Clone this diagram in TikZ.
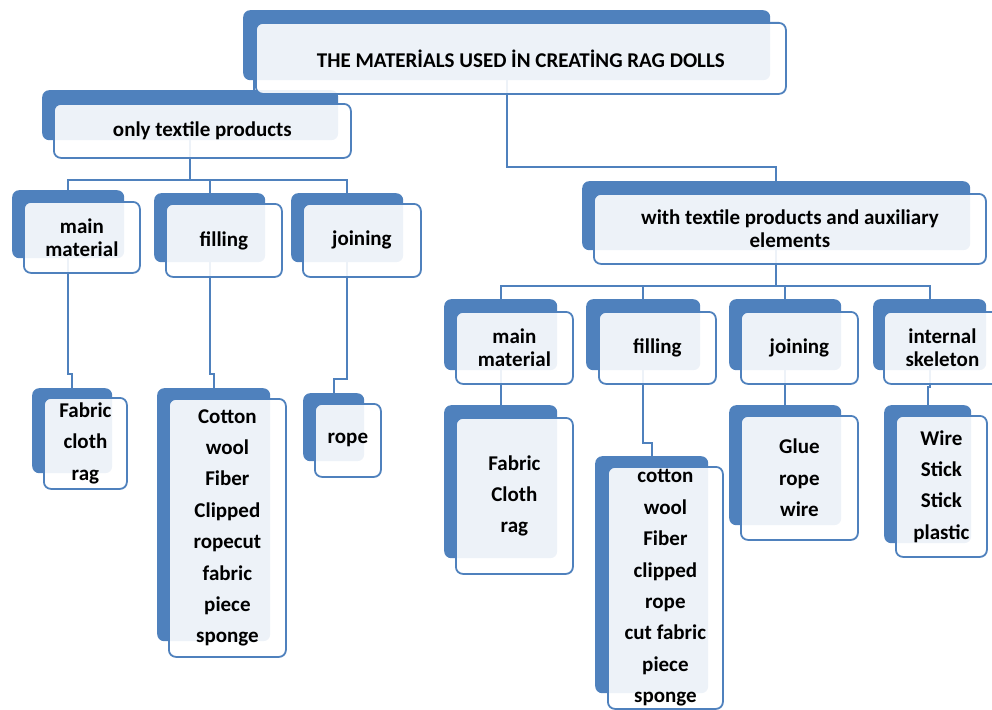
\documentclass[tikz,border=0pt]{standalone}
\usepackage{fontspec}
\setmainfont{Carlito}
\definecolor{dollblue}{RGB}{79,129,189}
\tikzset{
  back/.style={fill=dollblue, rounded corners=7pt, anchor=north west, inner sep=0pt},
  front/.style={draw=dollblue, line width=1.8pt, fill=white, fill opacity=.9, text opacity=1,
    rounded corners=7pt, anchor=north west, inner sep=0pt, align=center,
    font=\bfseries\fontsize{21}{23}\selectfont},
  leaf/.style={front, font=\bfseries\fontsize{21}{31.4}\selectfont},
  link/.style={draw=dollblue, line width=2pt},
}
\begin{document}
\begin{tikzpicture}[x=1pt, y=-1pt]

    \clip (0,0) rectangle (992,709);

    % Back boxes
    \node[back, minimum width=527, minimum height=70] (title) at (243,10) {};
    \node[back, minimum width=296, minimum height=50] (only) at (42,90) {};
    \node[back, minimum width=388, minimum height=69] (aux) at (582,181) {};
    \node[back, minimum width=112, minimum height=68] (lmain) at (12,190) {};
    \node[back, minimum width=111, minimum height=69] (lfill) at (154,193) {};
    \node[back, minimum width=112, minimum height=69] (ljoin) at (291,193) {};
    \node[back, minimum width=113, minimum height=71] (rmain) at (444,299) {};
    \node[back, minimum width=114, minimum height=71] (rfill) at (586,299) {};
    \node[back, minimum width=112, minimum height=71] (rjoin) at (729,299) {};
    \node[back, minimum width=113, minimum height=71] (rskel) at (873,299) {};
    \node[back, minimum width=80, minimum height=85] (lfabric) at (32,388) {};
    \node[back, minimum width=113, minimum height=253] (lcotton) at (157,388) {};
    \node[back, minimum width=61, minimum height=68] (lrope) at (303,393) {};
    \node[back, minimum width=113, minimum height=153] (rfabric) at (444,405) {};
    \node[back, minimum width=113, minimum height=237] (rcotton) at (595,456) {};
    \node[back, minimum width=112, minimum height=120] (rglue) at (729,405) {};
    \node[back, minimum width=87, minimum height=138] (rwire) at (884,405) {};

    % Connectors
    \coordinate (tl) at (254,80);
    \draw[link] (tl) -- (tl |- only.north);
    \draw[link] (title.south) -- ++(0,87) -| (aux.north);
    \draw[link] (only.south) -- ++(0,40) -| (lmain.north);
    \draw[link] (only.south) -- ++(0,40) -| (lfill.north);
    \draw[link] (only.south) -- ++(0,40) -| (ljoin.north);
    \draw[link] (aux.south) -- ++(0,36) -| (rmain.north);
    \draw[link] (aux.south) -- ++(0,36) -| (rfill.north);
    \draw[link] (aux.south) -- ++(0,36) -| (rjoin.north);
    \draw[link] (aux.south) -- ++(0,36) -| (rskel.north);
    \draw[link] (lmain.south) -- ++(0,116) -| (lfabric.north);
    \draw[link] (lfill.south) -- ++(0,112) -| (lcotton.north);
    \draw[link] (ljoin.south) -- ++(0,117) -| (lrope.north);
    \draw[link] (rmain.south) -- (rfabric.north);
    \draw[link] (rfill.south) -- ++(0,73) -| (rcotton.north);
    \draw[link] (rjoin.south) -- (rglue.north);
    \draw[link] (rskel.south) -- ++(0,17) -| (rwire.north);

    % Front boxes
    \node[front, minimum width=530, minimum height=71] (title-f) at (255,22) {THE MATERİALS USED İN CREATİNG RAG DOLLS};
    \node[front, minimum width=297, minimum height=54] (only-f) at (53,103) {only textile products};
    \node[front, minimum width=392, minimum height=70] (aux-f) at (593,193) {with textile products and auxiliary\\elements};
    \node[front, minimum width=116, minimum height=71] (lmain-f) at (23,201) {main\\material};
    \node[front, minimum width=116, minimum height=73] (lfill-f) at (165,203) {filling};
    \node[front, minimum width=118, minimum height=73] (ljoin-f) at (302,203) {joining};
    \node[front, minimum width=117, minimum height=72] (rmain-f) at (455,311) {main\\material};
    \node[front, minimum width=117, minimum height=72] (rfill-f) at (598,311) {filling};
    \node[front, minimum width=117, minimum height=72] (rjoin-f) at (740,311) {joining};
    \node[front, minimum width=117, minimum height=72] (rskel-f) at (883,311) {internal\\skeleton};

    % Leaves
    \node[leaf, minimum width=83, minimum height=91] (lfabric-f) at (43,397) {Fabric\\cloth\\rag};
    \node[leaf, minimum width=117, minimum height=258] (lcotton-f) at (168,398) {Cotton\\wool\\Fiber\\Clipped\\ropecut\\fabric\\piece\\sponge};
    \node[leaf, minimum width=66, minimum height=73] (lrope-f) at (314,403) {rope};
    \node[leaf, minimum width=117, minimum height=156] (rfabric-f) at (455,417) {Fabric\\Cloth\\rag};
    \node[leaf, minimum width=115, minimum height=242] (rcotton-f) at (607,466) {cotton\\wool\\Fiber\\clipped\\rope\\cut fabric\\piece\\sponge};
    \node[leaf, minimum width=117, minimum height=124] (rglue-f) at (740,415) {Glue\\rope\\wire};
    \node[leaf, minimum width=91, minimum height=141] (rwire-f) at (895,415) {Wire\\Stick\\Stick\\plastic};

\end{tikzpicture}
\end{document}
